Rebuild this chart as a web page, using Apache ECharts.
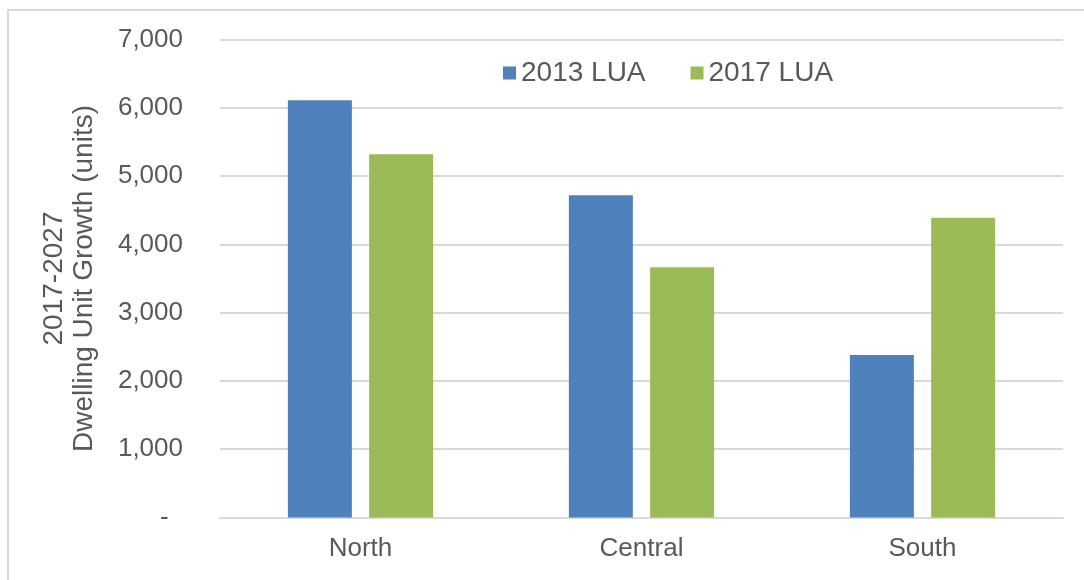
<!DOCTYPE html>
<html>
<head>
<meta charset="utf-8">
<script src="https://cdn.jsdelivr.net/npm/echarts@6/dist/echarts.min.js"></script>
<style>
  html, body { margin: 0; padding: 0; background: #fff; }
  #chart { width: 1084px; height: 580px; }
</style>
</head>
<body>
<div id="chart"></div>
<script>
// data
var regions = ['North', 'Central', 'South'];
var seriesNames = ['2013 LUA', '2017 LUA'];
var lua2013 = [6110, 4720, 2380];
var lua2017 = [5320, 3665, 4390];
var yTicks = [0, 1000, 2000, 3000, 4000, 5000, 6000, 7000];

var textColor = '#595959';
var gridColor = '#d9d9d9';

var myChart = echarts.init(document.getElementById('chart'));

var option = {
    animation: false,
    textStyle: { fontFamily: 'Liberation Sans, Arial, sans-serif' },
    graphic: [
        { // border on left and top, like the cropped screenshot
            type: 'polyline',
            shape: { points: [[8, 580], [8, 10], [1084, 10]] },
            style: { stroke: '#d9d9d9', lineWidth: 2, fill: null }
        }
    ],
    legend: {
        data: seriesNames,
        left: 503,
        top: 59,
        padding: 0,
        itemWidth: 13,
        itemHeight: 13,
        itemGap: 45,
        icon: 'rect',
        textStyle: { color: textColor, fontSize: 28 }
    },
    grid: {
        left: 220,
        right: 21,
        top: 39.5,
        bottom: 62.5
    },
    xAxis: {
        type: 'category',
        data: regions,
        axisTick: { show: false },
        axisLine: { lineStyle: { color: gridColor, width: 2 } },
        axisLabel: { color: textColor, fontSize: 26, margin: 18 }
    },
    yAxis: {
        type: 'value',
        min: yTicks[0],
        max: yTicks[yTicks.length - 1],
        interval: 1000,
        name: '2017-2027\nDwelling Unit Growth (units)',
        nameLocation: 'middle',
        nameRotate: 90,
        nameGap: 121,
        nameTextStyle: { color: textColor, fontSize: 28, lineHeight: 30 },
        axisLine: { show: false },
        axisTick: { show: false },
        splitLine: { lineStyle: { color: gridColor, width: 2 } },
        axisLabel: {
            color: textColor,
            fontSize: 26,
            margin: 37,
            formatter: function (v) {
                if (v === 0) return '-  ';
                return v.toLocaleString('en-US');
            }
        }
    },
    series: [
        {
            name: seriesNames[0],
            type: 'bar',
            data: lua2013,
            barWidth: 64,
            barGap: '27%',
            itemStyle: { color: '#4f81bd' }
        },
        {
            name: seriesNames[1],
            type: 'bar',
            data: lua2017,
            barWidth: 64,
            barGap: '27%',
            itemStyle: { color: '#9bbb59' }
        }
    ]
};
myChart.setOption(option);
</script>
</body>
</html>
